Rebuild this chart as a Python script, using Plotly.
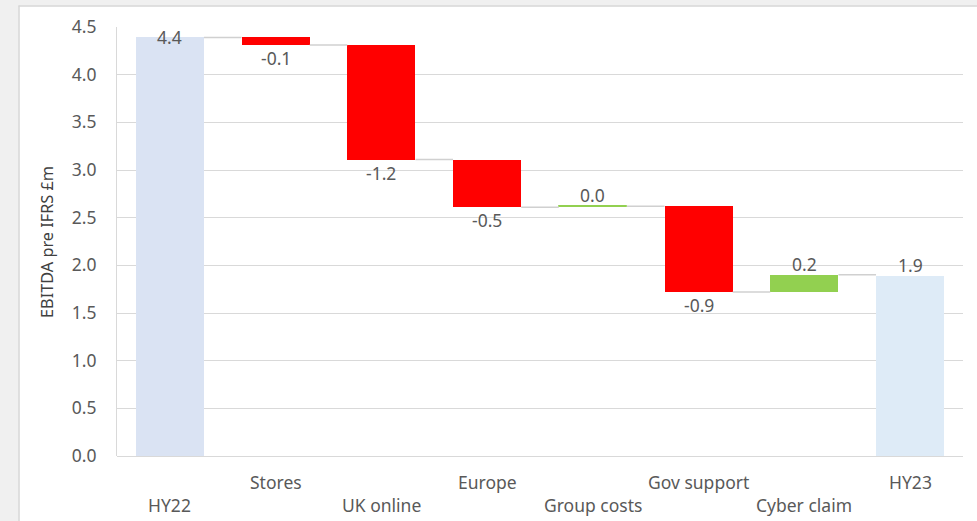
import plotly.graph_objects as go

categories = ["HY22", "Stores", "UK online", "Europe", "Group costs", "Gov support", "Cyber claim", "HY23"]
values = [4.39, -0.08, -1.20, -0.50, 0.01, -0.90, 0.18, 1.89]
measures = ["total", "relative", "relative", "relative", "relative", "relative", "relative", "total"]
labels = ["4.4", "-0.1", "-1.2", "-0.5", "0.0", "-0.9", "0.2", "1.9"]
label_row = [1, 0, 1, 0, 1, 0, 1, 0]  # 0 = upper row, 1 = lower row
y_ticks = [0, 0.5, 1.0, 1.5, 2.0, 2.5, 3.0, 3.5, 4.0, 4.5]

total_colors = {"HY22": "#DAE3F3", "HY23": "#DEEBF7"}
RED = "#FF0000"
GREEN = "#92D050"
GRID = "#D9D9D9"
TXT = "#595959"
FONT = "Noto Sans"
FS = 17.5

# compute bases / heights
bases, heights, colors, ends = [], [], [], []
running = 0.0
for c, v, m in zip(categories, values, measures):
    if m == "total":
        bases.append(0)
        heights.append(v)
        colors.append(total_colors[c])
        running = v
    else:
        start = running
        running = running + v
        bases.append(min(start, running))
        heights.append(abs(v))
        colors.append(GREEN if v >= 0 else RED)
    ends.append(running)

x = list(range(len(categories)))
BW = 0.645

fig = go.Figure()
fig.add_trace(go.Bar(
    x=x, y=heights, base=bases, width=BW,
    marker=dict(color=colors, line=dict(color=colors, width=[0, 0, 0, 0, 1, 0, 0, 0])),
    hoverinfo="skip", showlegend=False,
))

# connectors
cx, cy = [], []
for i in range(len(categories) - 1):
    cx += [i + BW / 2, i + 1 - BW / 2, None]
    cy += [ends[i], ends[i], None]
fig.add_trace(go.Scatter(x=cx, y=cy, mode="lines", line=dict(color="#D0D0D0", width=1.5),
                         hoverinfo="skip", showlegend=False))

# layout geometry in pixels
W, H = 977, 521
L, R, T, B = 117, 14, 27, 65
pw, ph = W - L - R, H - T - B

def px(p):
    return (p - L) / pw

def py(p):
    return (H - B - p) / ph

annotations = []
# value labels
for i, (lab, m, v) in enumerate(zip(labels, measures, values)):
    if i == 0:
        annotations.append(dict(x=i, y=ends[i], text=lab, showarrow=False, yanchor="middle",
                                font=dict(family=FONT, size=FS, color=TXT)))
    elif m == "total" or v >= 0:
        annotations.append(dict(x=i, y=max(bases[i] + heights[i], ends[i]), text=lab, showarrow=False,
                                yanchor="bottom", yshift=-3, font=dict(family=FONT, size=FS, color=TXT)))
    else:
        annotations.append(dict(x=i, y=bases[i], text=lab, showarrow=False,
                                yanchor="top", yshift=1, font=dict(family=FONT, size=FS, color=TXT)))
# category labels (staggered)
for i, (c, r) in enumerate(zip(categories, label_row)):
    annotations.append(dict(x=i, y=0, yref="y", text=c, showarrow=False, yanchor="middle",
                            yshift=-26 if r == 0 else -49,
                            font=dict(family=FONT, size=FS, color=TXT)))
# axis title
annotations.append(dict(x=px(47), y=py(242), xref="paper", yref="paper", text="EBITDA pre IFRS £m",
                        textangle=-90, showarrow=False, xanchor="center", yanchor="middle",
                        font=dict(family=FONT, size=16.3, color="#404040")))

shapes = [
    dict(type="rect", xref="paper", yref="paper", x0=px(-5), x1=px(18.5), y0=py(H + 5), y1=py(-5),
         fillcolor="#F0F0F0", line=dict(width=0), layer="below"),
    dict(type="rect", xref="paper", yref="paper", x0=px(-5), x1=px(W + 5), y0=py(5.5), y1=py(-5),
         fillcolor="#F0F0F0", line=dict(width=0), layer="below"),
    dict(type="line", xref="paper", yref="paper", x0=px(19), x1=px(19), y0=py(5.5), y1=py(H + 5),
         line=dict(color="#D6D6D6", width=1.5), layer="below"),
    dict(type="line", xref="paper", yref="paper", x0=px(18.5), x1=px(W + 5), y0=py(6), y1=py(6),
         line=dict(color="#D6D6D6", width=1.5), layer="below"),
]

fig.update_layout(
    width=W, height=H,
    margin=dict(l=L, r=R, t=T, b=B),
    paper_bgcolor="white", plot_bgcolor="rgba(0,0,0,0)",
    annotations=annotations, shapes=shapes,
    bargap=0,
    xaxis=dict(range=[-0.5, 7.5], showticklabels=False, showgrid=False, zeroline=False,
               showline=False, fixedrange=True),
    yaxis=dict(range=[0, 4.5], tickvals=y_ticks, tickformat=".1f", showgrid=True, gridcolor=GRID,
               gridwidth=1, zeroline=True, zerolinecolor=GRID, zerolinewidth=1,
               showline=True, linecolor=GRID, linewidth=1,
               ticks="", ticklabelstandoff=16,
               tickfont=dict(family=FONT, size=FS, color=TXT)),
)

fig.write_html("out.html", config={"displayModeBar": False},
               post_script="document.body.style.margin='0px';document.body.style.overflow='hidden';")
